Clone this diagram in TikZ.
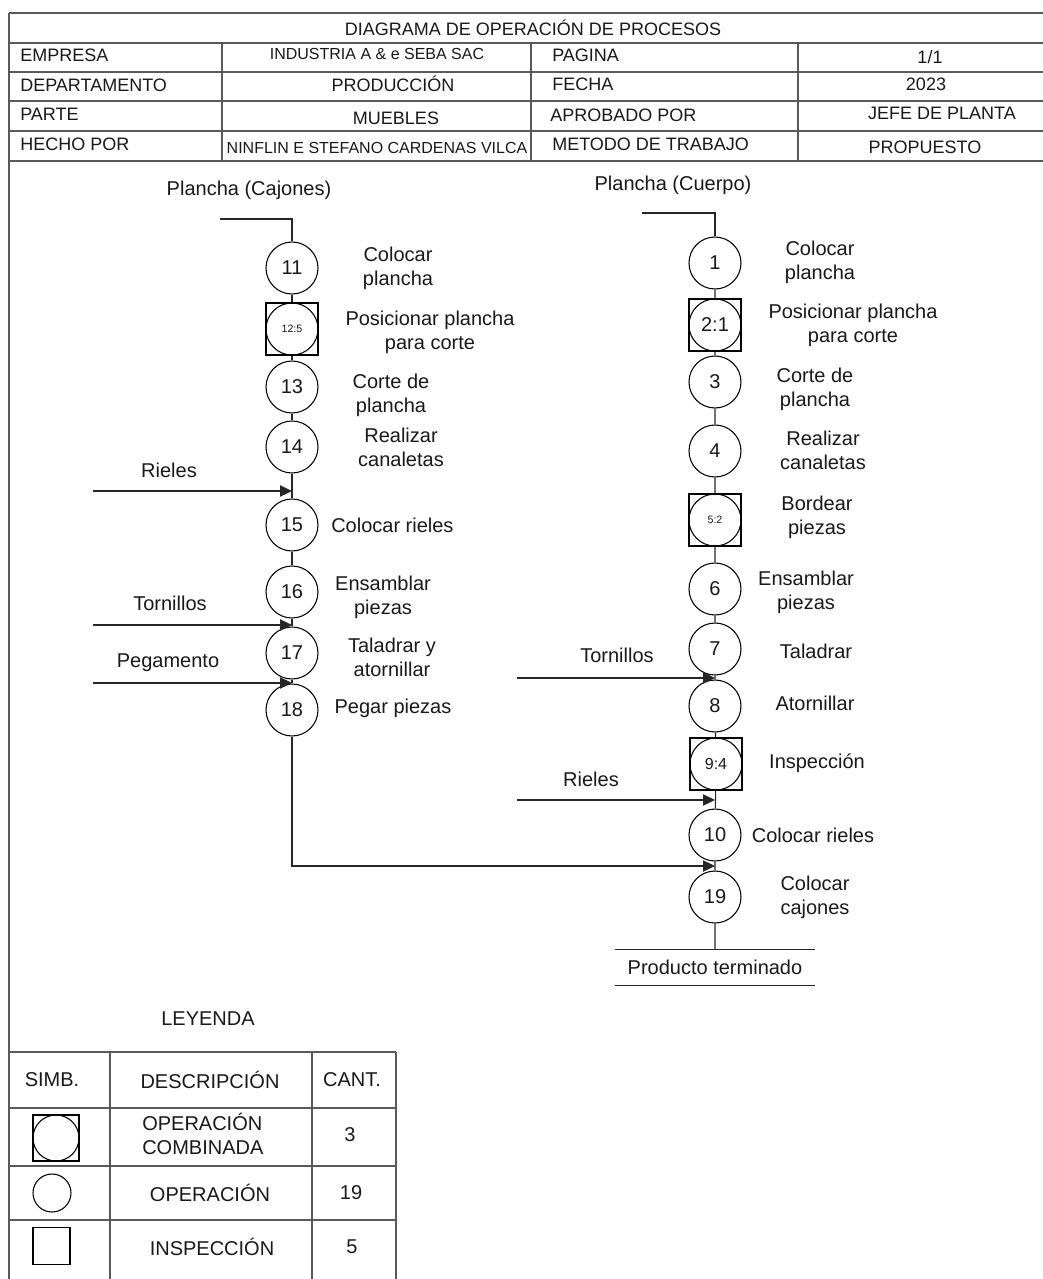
\documentclass[tikz,border=0pt]{standalone}
\usepackage{fontspec}
\setmainfont{Liberation Sans}
\usetikzlibrary{arrows.meta,calc}
\begin{document}
\begin{tikzpicture}[x=0.75pt,y=-0.75pt,
  every node/.style={inner sep=0pt, text=black!90},
  tl/.style={draw=black!65, line width=1.1pt},
  hd/.style={font=\fontsize{13.5}{16}\selectfont},
  hds/.style={font=\fontsize{12}{14}\selectfont},
  lb/.style={font=\fontsize{15}{18}\selectfont, align=center},
  op/.style={circle, draw, line width=0.8pt, minimum size=#1, fill=white, font=\fontsize{15}{18}\selectfont},
  op/.default=39pt,
  comb/.style={rectangle, draw, line width=0.8pt, minimum size=#1, fill=white, font=\fontsize{15}{18}\selectfont,
    path picture={\draw[line width=0.8pt] (path picture bounding box.center) circle (#1/2);}},
  comb/.default=39pt,
  insp/.style={rectangle, draw, line width=0.8pt, minimum size=#1},
  conn/.style={line width=0.8pt, draw=black!85},
  arr/.style={conn, -{Triangle[length=9pt,width=8.5pt]}},
]
\fill[white] (0,0) rectangle (1043,1279);
\useasboundingbox (0,0) rectangle (1043,1279);

% ---------- header table ----------
\foreach \yy in {13,43,72,101,131,161} \draw[tl] (9,\yy) -- (1043,\yy);
\draw[tl] (9,13) -- (9,1279);
\foreach \xx in {222,531,798} \draw[tl] (\xx,43) -- (\xx,161);

\node[hd] (title) at (533,28) {DIAGRAMA DE OPERACIÓN DE PROCESOS};
\node[hd, anchor=west] (h1a) at (20,55) {EMPRESA};
\node[hds] (h1b) at (377,54) {INDUSTRIA A \& e SEBA SAC};
\node[hd, anchor=west] (h1c) at (552,55) {PAGINA};
\node[hd] (h1d) at (930,57) {1/1};
\node[hd, anchor=west] (h2a) at (20,85) {DEPARTAMENTO};
\node[hd] (h2b) at (393,84) {PRODUCCIÓN};
\node[hd, anchor=west] (h2c) at (552,84) {FECHA};
\node[hd] (h2d) at (926,84) {2023};
\node[hd, anchor=west] (h3a) at (20,114) {PARTE};
\node[hd] (h3b) at (396,118) {MUEBLES};
\node[hd, anchor=west] (h3c) at (550,115) {APROBADO POR};
\node[hd] (h3d) at (942,113) {JEFE DE PLANTA};
\node[hd, anchor=west] (h4a) at (20,144) {HECHO POR};
\node[hds] (h4b) at (377,148) {NINFLIN E STEFANO CARDENAS VILCA};
\node[hd, anchor=west] (h4c) at (552,144) {METODO DE TRABAJO};
\node[hd] (h4d) at (925,147) {PROPUESTO};

% ---------- left column ----------
\node[lb] (tpc) at (249,190) {Plancha (Cajones)};
\coordinate (s1) at (220,219);
\node[op] (n11) at (292,268) {11};
\node[comb] (n12) at (292,329) {\fontsize{8}{9}\selectfont 12:5};
\node[op] (n13) at (292,387) {13};
\node[op] (n14) at (292,447) {14};
\node[op] (n15) at (292,525) {15};
\node[op] (n16) at (292,592) {16};
\node[op] (n17) at (292,653) {17};
\node[op] (n18) at (292,710) {18};

\node[lb] (l11) at (398,268) {Colocar\\plancha};
\node[lb] (l12) at (430,332) {Posicionar plancha\\para corte};
\node[lb] (l13) at (391,395) {Corte de\\plancha};
\node[lb] (l14) at (401,447) {Realizar\\canaletas};
\node[lb, anchor=west] (l15) at (331,525) {Colocar rieles};
\node[lb] (l16) at (383,597) {Ensamblar\\piezas};
\node[lb] (l17) at (392,657) {Taladrar y\\atornillar};
\node[lb] (l18) at (393,708) {Pegar piezas};

\node[lb] (tr1) at (169,470) {Rieles};
\node[lb] (tt1) at (170,603) {Tornillos};
\node[lb] (tp1) at (168,663) {Pegamento};
\coordinate (cR1) at (93,491);
\coordinate (cT1) at (93,625);
\coordinate (cP1) at (93,683);

\draw[conn] (s1) -| (n11);
\draw[conn] (n11) -- (n12) -- (n13) -- (n14) -- (n15) -- (n16) -- (n17) -- (n18);
\draw[arr] (cR1) -- (cR1 -| n15);
\draw[arr] (cT1) -- (cT1 -| n16);
\draw[arr] (cP1) -- (cP1 -| n17);

% ---------- right column ----------
\node[lb] (tpb) at (673,185) {Plancha (Cuerpo)};
\coordinate (s2) at (642,213);
\node[op] (n1) at (715,263) {1};
\node[comb] (n2) at (715,325) {2:1};
\node[op] (n3) at (715,382) {3};
\node[op] (n4) at (715,451) {4};
\node[comb] (n5) at (715,520) {\fontsize{8}{9}\selectfont 5:2};
\node[op] (n6) at (715,589) {6};
\node[op] (n7) at (715,649) {7};
\node[op] (n8) at (715,706) {8};
\node[comb] (n9) at (716,764) {\fontsize{12}{14}\selectfont 9:4};
\node[op] (n10) at (715,835) {10};
\node[op] (n19) at (715,897) {19};
\node[lb, minimum width=150pt, minimum height=26.25pt] (prod) at (715,967.5) {Producto terminado};
\draw[conn] (prod.north west) -- (prod.north east);
\draw[conn] (prod.south west) -- (prod.south east);

\node[lb] (r1) at (820,262) {Colocar\\plancha};
\node[lb] (r2) at (853,325) {Posicionar plancha\\para corte};
\node[lb] (r3) at (815,389) {Corte de\\plancha};
\node[lb] (r4) at (823,450) {Realizar\\canaletas};
\node[lb] (r5) at (817,517) {Bordear\\piezas};
\node[lb] (r6) at (806,592) {Ensamblar\\piezas};
\node[lb] (r7) at (816,651) {Taladrar};
\node[lb] (r8) at (815,703) {Atornillar};
\node[lb] (r9) at (817,763) {Inspección};
\node[lb] (r10) at (813,835) {Colocar rieles};
\node[lb] (r19) at (815,897) {Colocar\\cajones};

\node[lb] (tt2) at (617,655) {Tornillos};
\node[lb] (tr2) at (591,779) {Rieles};
\coordinate (cT2) at (517,678);
\coordinate (cR2) at (517,800);
\coordinate (cJ) at (715,866);

\draw[conn] (s2) -| (n1);
\draw[conn] (n1) -- (n2) -- (n3) -- (n4) -- (n5) -- (n6) -- (n7) -- (n8) -- (n9) -- (n10) -- (n19) -- (prod);
\draw[arr] (cT2) -- (cT2 -| n7);
\draw[arr] (cR2) -- (cR2 -| n10);
\draw[arr] (n18) |- (cJ);

% ---------- legend ----------
\node[lb] (ley) at (208,1019) {LEYENDA};
\foreach \xx in {110,312,396} \draw[tl] (\xx,1052) -- (\xx,1279);
\foreach \yy in {1052,1108,1166,1220} \draw[tl] (9,\yy) -- (396,\yy);
\node[lb] (lh1) at (52,1080) {SIMB.};
\node[lb] (lh2) at (210,1080) {DESCRIPCIÓN};
\node[lb] (lh3) at (352,1080) {CANT.};
\node[comb=34.5pt] (ls1) at (56,1138) {};
\node[lb, align=left, anchor=west] (ld1) at (142,1134) {OPERACIÓN\\COMBINADA};
\node[lb] (lc1) at (350,1135) {3};
\node[op=28.5pt] (ls2) at (52,1193) {};
\node[lb] (ld2) at (210,1193) {OPERACIÓN};
\node[lb] (lc2) at (351,1193) {19};
\node[insp=27.75pt] (ls3) at (51.5,1246) {};
\node[lb] (ld3) at (212,1247) {INSPECCIÓN};
\node[lb] (lc3) at (352,1247) {5};
\end{tikzpicture}
\end{document}
